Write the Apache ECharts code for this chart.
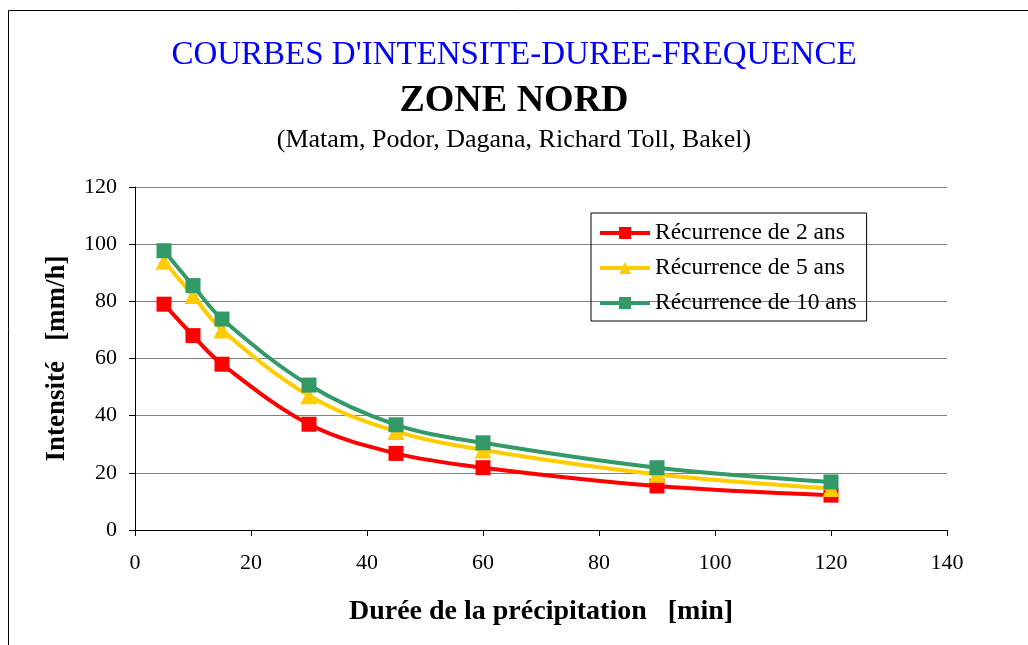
<!DOCTYPE html>
<html>
<head>
<meta charset="utf-8">
<script src="https://cdn.jsdelivr.net/npm/echarts@6/dist/echarts.min.js"></script>
<style>
  html, body { margin: 0; padding: 0; background: #fff; }
  #chart { width: 1028px; height: 645px; }
</style>
</head>
<body>
<div id="chart"></div>
<script>
// durée (min)
const durees = [5, 10, 15, 30, 45, 60, 90, 120];
// intensité (mm/h) par récurrence
const rec2 = [79, 68, 58, 37, 26.8, 21.8, 15.4, 12.2];
const rec5 = [94, 82, 70, 47, 34.5, 28, 19.5, 14.5];
const rec10 = [97.7, 85.5, 73.8, 50.7, 36.8, 30.5, 21.8, 16.8];
const seriesNames = ["Récurrence de 2 ans", "Récurrence de 5 ans", "Récurrence de 10 ans"];

const font = "Liberation Serif, Times New Roman, serif";

function pairs(ys) {
  return durees.map((x, i) => [x, ys[i]]);
}

const chart = echarts.init(document.getElementById("chart"));

const option = {
  animation: false,
  textStyle: { fontFamily: font, color: "#000" },
  graphic: [
    {
      type: "rect",
      shape: { x: 8.5, y: 10.5, width: 1100, height: 700 },
      style: { fill: "none", stroke: "#000", lineWidth: 1 },
      silent: true,
    },
  ],
  title: [
    {
      text: "COURBES D'INTENSITE-DUREE-FREQUENCE",
      left: "center",
      top: 34,
      textStyle: { fontFamily: font, fontSize: 33, fontWeight: "normal", color: "#0000ff" },
    },
    {
      text: "ZONE NORD",
      left: "center",
      top: 77,
      textStyle: { fontFamily: font, fontSize: 38, fontWeight: "bold", color: "#000" },
    },
    {
      text: "(Matam, Podor, Dagana, Richard Toll, Bakel)",
      left: "center",
      top: 122,
      textStyle: { fontFamily: font, fontSize: 26, fontWeight: "normal", color: "#000" },
    },
  ],
  legend: {
    orient: "vertical",
    left: 591,
    top: 213,
    padding: [8, 10, 6, 7],
    itemGap: 11,
    itemWidth: 50,
    itemHeight: 15,
    borderColor: "#000",
    borderWidth: 1,
    lineStyle: { width: 4 },
    textStyle: { fontFamily: font, fontSize: 23.5, color: "#000" },
    data: seriesNames,
  },
  grid: { left: 135, right: 81, top: 187, bottom: 115 },
  xAxis: {
    type: "value",
    min: 0,
    max: 140,
    interval: 20,
    name: "Durée de la précipitation   [min]",
    nameLocation: "middle",
    nameGap: 68,
    nameTextStyle: { fontFamily: font, fontSize: 28, fontWeight: "bold", color: "#000" },
    axisLine: { show: true, lineStyle: { color: "#000", width: 1 } },
    axisTick: { show: true, inside: false, length: 6, lineStyle: { color: "#000" } },
    axisLabel: { fontFamily: font, fontSize: 22, color: "#000", margin: 22 },
    splitLine: { show: false },
  },
  yAxis: {
    type: "value",
    min: 0,
    max: 120,
    interval: 20,
    name: "Intensité   [mm/h]",
    nameLocation: "middle",
    nameGap: 64,
    nameTextStyle: { fontFamily: font, fontSize: 27, fontWeight: "bold", color: "#000" },
    axisLine: { show: true, lineStyle: { color: "#000", width: 1 } },
    axisTick: { show: true, inside: false, length: 6, lineStyle: { color: "#000" } },
    axisLabel: { fontFamily: font, fontSize: 22, color: "#000", margin: 18 },
    splitLine: { show: true, lineStyle: { color: "#808080", width: 1 } },
  },
  series: [
    {
      name: seriesNames[0],
      type: "line",
      smooth: 0.35,
      data: pairs(rec2),
      symbol: "rect",
      symbolSize: 15,
      lineStyle: { color: "#ff0000", width: 4 },
      itemStyle: { color: "#ff0000" },
      z: 2,
    },
    {
      name: seriesNames[1],
      type: "line",
      smooth: 0.35,
      data: pairs(rec5),
      symbol: "triangle",
      symbolSize: 17,
      lineStyle: { color: "#ffcc00", width: 4 },
      itemStyle: { color: "#ffcc00" },
      z: 3,
    },
    {
      name: seriesNames[2],
      type: "line",
      smooth: 0.35,
      data: pairs(rec10),
      symbol: "rect",
      symbolSize: 15,
      lineStyle: { color: "#339966", width: 4 },
      itemStyle: { color: "#339966" },
      z: 4,
    },
  ],
};

chart.setOption(option);
</script>
</body>
</html>
